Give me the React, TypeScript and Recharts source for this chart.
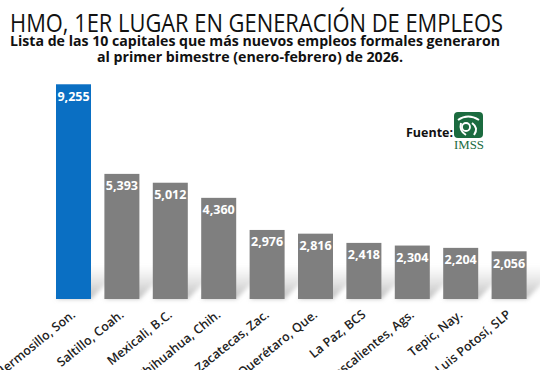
import React from "react";
import { BarChart, Bar, XAxis, YAxis, Cell, LabelList } from "recharts";

const cities = [
  "Hermosillo, Son.",
  "Saltillo, Coah.",
  "Mexicali, B.C.",
  "Chihuahua, Chih.",
  "Zacatecas, Zac.",
  "Querétaro, Que.",
  "La Paz, BCS",
  "Aguascalientes, Ags.",
  "Tepic, Nay.",
  "San Luis Potosí, SLP",
];
const empleos = [9255, 5393, 5012, 4360, 2976, 2816, 2418, 2304, 2204, 2056];

const data = cities.map((city, i) => ({ city, empleos: empleos[i] }));

const BLUE = "#0a6fc3";
const GRAY = "#7f7f7f";
const FONT = "'Open Sans', 'Noto Sans', sans-serif";

// bar with a soft diagonal cast shadow behind it
const ShadowBar = (props: any) => {
  const { x, y, width, height, fill } = props;
  const b = y + height;
  const s = 34;
  return (
    <g>
      <polygon
        points={`${x},${b} ${x + width},${b} ${x + width + s},${b - s} ${x + s},${b - s}`}
        fill="url(#shadowGrad)"
        filter="url(#shadowBlur)"
      />
      <rect x={x} y={y} width={width} height={height} fill={fill} />
    </g>
  );
};

const CityTick = (props: any) => {
  const { x, y, payload } = props;
  const tx = x + 3;
  const ty = y + 17;
  return (
    <text
      x={tx}
      y={ty}
      transform={`rotate(-39, ${tx}, ${ty})`}
      textAnchor="end"
      fontSize={12.5}
      fontWeight={600}
      fontFamily={FONT}
      fill="#222"
    >
      {payload.value}
    </text>
  );
};

const ValueLabel = (props: any) => {
  const { x, y, width, value } = props;
  return (
    <text
      x={x + width / 2}
      y={y + 12}
      textAnchor="middle"
      dominantBaseline="central"
      fontSize={12.5}
      fontWeight={700}
      fontFamily={FONT}
      fill="#fff"
    >
      {Number(value).toLocaleString("en-US")}
    </text>
  );
};

const ImssLogo = () => (
  <svg width={34} height={40} style={{ position: "absolute", left: 452, top: 111 }}>
    <rect x={2} y={1} width={29} height={26} rx={4} fill="#1b6b3f" />
    <path d="M6 9 Q16 2 27 9" stroke="#fff" strokeWidth={2} fill="none" />
    <path d="M9 12 Q7 20 14 24" stroke="#fff" strokeWidth={2} fill="none" />
    <circle cx={14} cy={16} r={4} stroke="#fff" strokeWidth={1.8} fill="none" />
    <path d="M20 12 Q27 17 22 24" stroke="#fff" strokeWidth={2} fill="none" />
    <text x={17} y={38} textAnchor="middle" fontSize={11.5} fontFamily="'Liberation Serif', serif" fill="#1b6b3f" textLength={30} lengthAdjust="spacingAndGlyphs">
      IMSS
    </text>
  </svg>
);

export default function App() {
  return (
    <div style={{ position: "absolute", left: 0, top: 0, width: 540, height: 370, background: "#fff", overflow: "hidden" }}>
      <svg width={540} height={70} style={{ position: "absolute", left: 0, top: 0 }}>
        <text x={10} y={32} fontSize={26} fontFamily={FONT} fill="#111" textLength={493} lengthAdjust="spacingAndGlyphs">
          HMO, 1ER LUGAR EN GENERACIÓN DE EMPLEOS
        </text>
        <text x={255} y={46} textAnchor="middle" fontSize={15} fontWeight={700} fontFamily={FONT} fill="#111" textLength={490} lengthAdjust="spacingAndGlyphs">
          Lista de las 10 capitales que más nuevos empleos formales generaron
        </text>
        <text x={250} y={62} textAnchor="middle" fontSize={15} fontWeight={700} fontFamily={FONT} fill="#111" textLength={306} lengthAdjust="spacingAndGlyphs">
          al primer bimestre (enero-febrero) de 2026.
        </text>
      </svg>
      <div style={{ position: "absolute", left: 406, top: 124, fontFamily: FONT, fontWeight: 700, fontSize: 12.5, color: "#111" }}>
        Fuente:
      </div>
      <ImssLogo />
      <div style={{ position: "absolute", left: 0, top: 0 }}>
        <BarChart width={540} height={370} data={data} margin={{ top: 67, right: 7, bottom: 0, left: 49 }}>
          <defs>
            <linearGradient id="shadowGrad" x1="0" y1="1" x2="0" y2="0">
              <stop offset="0%" stopColor="#b5b5b5" stopOpacity={0.9} />
              <stop offset="100%" stopColor="#d0d0d0" stopOpacity={0} />
            </linearGradient>
            <filter id="shadowBlur" x="-50%" y="-50%" width="200%" height="200%">
              <feGaussianBlur stdDeviation={2} />
            </filter>
          </defs>
          <YAxis hide domain={[0, 10000]} />
          <XAxis
            dataKey="city"
            axisLine={false}
            tickLine={false}
            tickSize={0}
            tickMargin={0}
            height={71}
            interval={0}
            tick={<CityTick />}
          />
          <Bar dataKey="empleos" barSize={35} shape={<ShadowBar />} isAnimationActive={false}>
            {data.map((d, i) => (
              <Cell key={d.city} fill={i === 0 ? BLUE : GRAY} />
            ))}
            <LabelList dataKey="empleos" content={<ValueLabel />} />
          </Bar>
        </BarChart>
      </div>
    </div>
  );
}
